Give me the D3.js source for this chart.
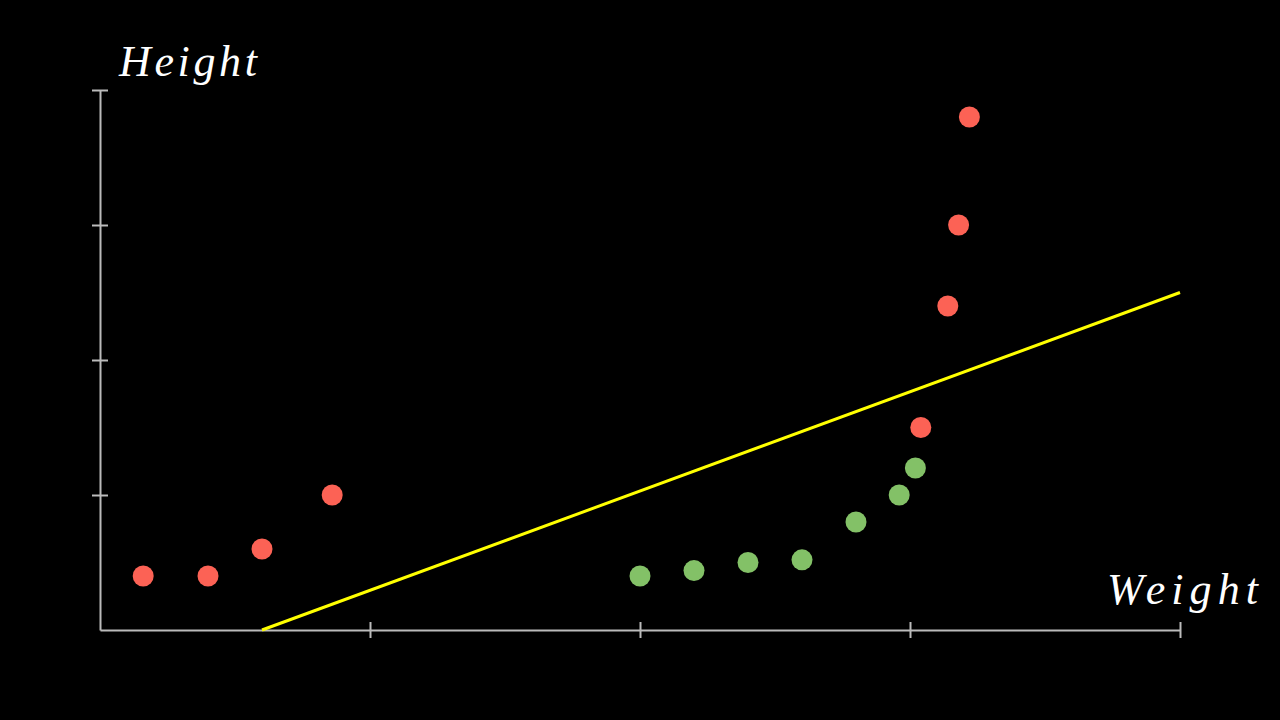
<!DOCTYPE html>
<html>
<head>
<meta charset="utf-8">
<script src="https://cdn.jsdelivr.net/npm/d3@7"></script>
<style>
html,body{margin:0;padding:0;background:#000;}
svg{display:block;}
</style>
</head>
<body>
<svg id="chart" width="1280" height="720"></svg>
<script>
const xTicks = [0, 1, 2, 3, 4];
const yTicks = [0, 1, 2, 3, 4];
const redX = [0.16, 0.4, 0.6, 0.86, 3.04, 3.14, 3.18, 3.22];
const redY = [0.4, 0.4, 0.6, 1.0, 1.5, 2.4, 3.0, 3.8];
const greenX = [2.0, 2.2, 2.4, 2.6, 2.8, 2.96, 3.02];
const greenY = [0.4, 0.44, 0.5, 0.52, 0.8, 1.0, 1.2];
const lineX = [0.6, 4.0];
const lineY = [0.0, 2.5];
const xLabel = "Weight";
const yLabel = "Height";

const svg = d3.select("#chart");
svg.append("rect").attr("width",1280).attr("height",720).attr("fill","#000");

const x = d3.scaleLinear().domain([0,4]).range([100,1180]);
const y = d3.scaleLinear().domain([0,4]).range([630,90]);
const axisColor = "#bbbbbb";

// x axis
const xAxis = svg.append("g").attr("transform","translate(0,630)")
  .call(d3.axisBottom(x).tickValues(xTicks.slice(1)).tickSize(8).tickSizeOuter(0).tickFormat(""));
xAxis.selectAll("line").attr("stroke",axisColor).attr("stroke-width",2).attr("y1",-8);
xAxis.select(".domain").attr("stroke",axisColor).attr("stroke-width",2);

// y axis
const yAxis = svg.append("g").attr("transform","translate(100,0)")
  .call(d3.axisLeft(y).tickValues(yTicks.slice(1)).tickSize(8).tickSizeOuter(0).tickFormat(""));
yAxis.selectAll("line").attr("stroke",axisColor).attr("stroke-width",2).attr("x1",8);
yAxis.select(".domain").attr("stroke",axisColor).attr("stroke-width",2);

// regression line
svg.append("path")
  .datum(lineX.map((d,i)=>[d,lineY[i]]))
  .attr("d", d3.line().x(d=>x(d[0])).y(d=>y(d[1])))
  .attr("stroke","#ffff00").attr("stroke-width",3).attr("fill","none");

// points
svg.append("g").selectAll("circle").data(redX.map((d,i)=>[d,redY[i]])).join("circle")
  .attr("cx",d=>x(d[0])).attr("cy",d=>y(d[1])).attr("r",10.5).attr("fill","#fc6255");
svg.append("g").selectAll("circle").data(greenX.map((d,i)=>[d,greenY[i]])).join("circle")
  .attr("cx",d=>x(d[0])).attr("cy",d=>y(d[1])).attr("r",10.5).attr("fill","#83c167");

// labels
const labelFont = "'Liberation Serif', 'DejaVu Serif', serif";
svg.append("text").attr("x",119).attr("y",76).text(yLabel)
  .attr("font-family",labelFont).attr("font-style","italic").attr("font-size",44)
  .attr("fill","#ffffff").attr("textLength",138).attr("lengthAdjust","spacing");
svg.append("text").attr("x",1107).attr("y",604).text(xLabel)
  .attr("font-family",labelFont).attr("font-style","italic").attr("font-size",44)
  .attr("fill","#ffffff").attr("textLength",151).attr("lengthAdjust","spacing");
</script>
</body>
</html>
